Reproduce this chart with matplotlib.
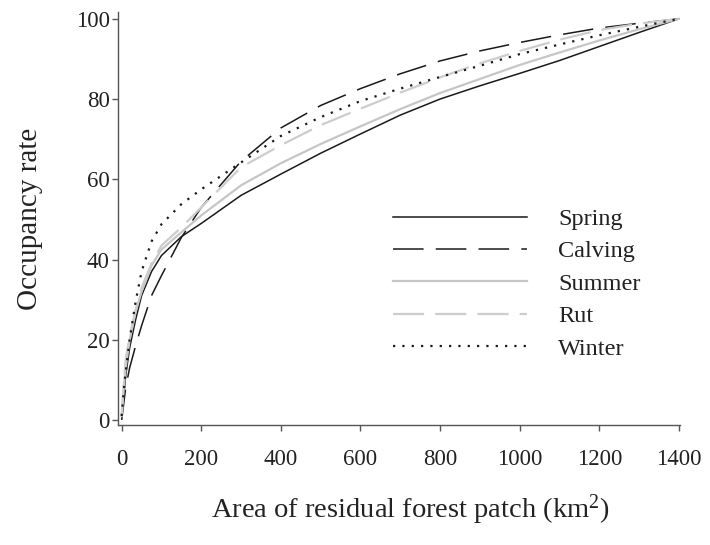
import numpy as np
import matplotlib
matplotlib.use("Agg")
import matplotlib.pyplot as plt

plt.rcParams['font.family'] = ['Liberation Serif', 'DejaVu Serif']
plt.rcParams['mathtext.fontset'] = 'custom'
plt.rcParams['mathtext.rm'] = 'Liberation Serif'
plt.rcParams['mathtext.it'] = 'Liberation Serif:italic'

# ---- data ----
area = np.array([0, 5, 10, 20, 35, 50, 75, 100, 150, 200, 300, 400, 500,
                 600, 700, 800, 900, 1000, 1100, 1200, 1300, 1400])

spring = np.array([1, 6, 11, 18, 25, 31, 37, 41, 45.7, 49, 56, 61.3, 66.5,
                   71.3, 76, 80, 83.3, 86.4, 89.6, 93.1, 96.6, 100])
calving = np.array([0, 4, 8, 13, 18.5, 23.5, 31, 36, 45.5, 53, 64.5, 72.8, 78.4,
                    82.6, 86.3, 89.5, 92, 94.1, 96, 97.7, 98.9, 100])
summer = np.array([1, 8, 13, 20, 27, 32, 38.5, 42.5, 46.8, 51, 58.5, 64, 68.8,
                   73.2, 77.5, 81.5, 85, 88.5, 91.6, 94.6, 97.4, 100])
rut = np.array([1, 9, 15, 21, 27.5, 33, 39, 43.5, 48, 53, 63, 68.5, 73.5,
                77.6, 81.6, 85.4, 88.9, 92, 94.8, 97.2, 98.8, 100])
winter = np.array([1, 7, 12, 20, 29.5, 37, 44.5, 48.8, 53.8, 57.5, 64.2, 70.8, 75.5,
                   79.5, 82.6, 85.5, 88.3, 91.2, 93.6, 95.9, 98, 100])

series_names = ["Spring", "Calving", "Summer", "Rut", "Winter"]
xticks = [0, 200, 400, 600, 800, 1000, 1200, 1400]
yticks = [0, 20, 40, 60, 80, 100]

# ---- figure ----
fig = plt.figure(figsize=(7.1, 5.45), dpi=100)
ax = fig.add_axes([118.1 / 710, 120 / 545, 561.6 / 710, 413 / 545])

ax.plot(area, spring, color='#1a1a1a', lw=1.1, label=series_names[0])
ax.plot(area, calving, color='#1a1a1a', lw=1.1, dashes=(20, 8), label=series_names[1])
ax.plot(area, summer, color='#c6c6c6', lw=1.6, label=series_names[2])
ax.plot(area, rut, color='#cdcdcd', lw=1.6, dashes=(14, 5), label=series_names[3])
ax.plot(area, winter, color='#1a1a1a', lw=1.6, dashes=(1, 3.2), label=series_names[4])

ax.set_xlim(-9, 1402)
ax.set_ylim(-1.25, 101.7)
ax.set_xticks(xticks)
ax.set_yticks(yticks)

for s in ['top', 'right']:
    ax.spines[s].set_visible(False)
for s in ['left', 'bottom']:
    ax.spines[s].set_color('#555555')
    ax.spines[s].set_linewidth(1.0)

ax.tick_params(axis='both', direction='out', length=4, width=1.0,
               color='#555555', labelsize=16.5, labelcolor='#222222')
ax.tick_params(axis='x', pad=13)
ax.tick_params(axis='y', pad=2)

ax.set_xlabel(r'Area of residual forest patch (km$^{2}$)', fontsize=20.5,
              color='#222222', va='baseline')
ax.xaxis.set_label_coords((410 - 118.1) / 561.6, (425 - 518) / 413)
ax.set_ylabel('Occupancy rate', fontsize=21, color='#222222', va='center')
ax.yaxis.set_label_coords((30 - 118.1) / 561.6, 0.5)

leg = ax.legend(loc='upper left', bbox_to_anchor=(393 / 710, 1 - 208 / 545),
                bbox_transform=fig.transFigure, frameon=False, fontsize=17.5,
                handlelength=5.5, handletextpad=1.3, labelspacing=0.43,
                borderpad=0, borderaxespad=0)
for t in leg.get_texts():
    t.set_color('#222222')

fig.savefig('out.png', dpi=100)
